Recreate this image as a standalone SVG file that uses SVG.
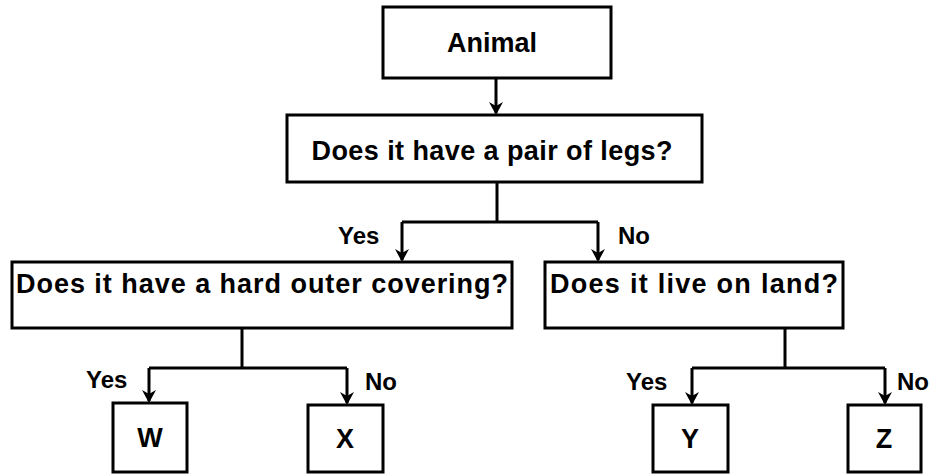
<svg xmlns="http://www.w3.org/2000/svg" width="946" height="476" viewBox="0 0 946 476">
<style>
.box{fill:#fff;stroke:#000;stroke-width:3}
.t{font-family:"Liberation Sans",Arial,sans-serif;font-weight:bold;font-size:27px;fill:#000;text-anchor:middle}
.lbl{font-family:"Liberation Sans",Arial,sans-serif;font-weight:bold;font-size:24px;fill:#000}
.c{fill:none;stroke:#000;stroke-width:3}
</style>
<defs>
<marker id="ah" markerUnits="userSpaceOnUse" markerWidth="16" markerHeight="16" refX="11" refY="7" orient="auto">
<path d="M0,0 L13,7 L0,14 L4,7 Z" fill="#000"/>
</marker>
</defs>
<rect width="946" height="476" fill="#fff"/>
<g id="connectors">
<path class="c" d="M496,78 V113" marker-end="url(#ah)"/>
<path class="c" d="M497,182 V222"/>
<path class="c" d="M402,222 H598"/>
<path class="c" d="M402,222 V260" marker-end="url(#ah)"/>
<path class="c" d="M598,222 V260" marker-end="url(#ah)"/>
<path class="c" d="M242,328 V368"/>
<path class="c" d="M149,368 H347"/>
<path class="c" d="M149,368 V401" marker-end="url(#ah)"/>
<path class="c" d="M347,368 V403" marker-end="url(#ah)"/>
<path class="c" d="M785,328 V368"/>
<path class="c" d="M692,368 H885"/>
<path class="c" d="M692,368 V403" marker-end="url(#ah)"/>
<path class="c" d="M885,368 V403" marker-end="url(#ah)"/>
<text class="lbl" x="338" y="244">Yes</text>
<text class="lbl" x="618" y="244">No</text>
<text class="lbl" x="86" y="388">Yes</text>
<text class="lbl" x="365" y="390">No</text>
<text class="lbl" x="626" y="390">Yes</text>
<text class="lbl" x="897" y="390">No</text>
</g>
<g id="animal">
<rect class="box" x="383" y="7" width="228" height="71"/>
<text class="t" x="492" y="52">Animal</text>
</g>
<g id="legs">
<rect class="box" x="287" y="115" width="415" height="67"/>
<text class="t" x="492" y="160" textLength="361" lengthAdjust="spacing">Does it have a pair of legs?</text>
</g>
<g id="covering">
<rect class="box" x="12" y="262" width="500" height="66"/>
<text class="t" x="262" y="293" textLength="492" lengthAdjust="spacing">Does it have a hard outer covering?</text>
</g>
<g id="land">
<rect class="box" x="545" y="262" width="298" height="66"/>
<text class="t" x="694" y="293" textLength="288" lengthAdjust="spacing">Does it live on land?</text>
</g>
<g id="w">
<rect class="box" x="113" y="403" width="74" height="69"/>
<text class="t" x="150" y="447">W</text>
</g>
<g id="x">
<rect class="box" x="308" y="405" width="75" height="67"/>
<text class="t" x="345" y="448">X</text>
</g>
<g id="y">
<rect class="box" x="653" y="405" width="75" height="67"/>
<text class="t" x="690" y="448">Y</text>
</g>
<g id="z">
<rect class="box" x="848" y="405" width="73" height="67"/>
<text class="t" x="884" y="448">Z</text>
</g>
</svg>
